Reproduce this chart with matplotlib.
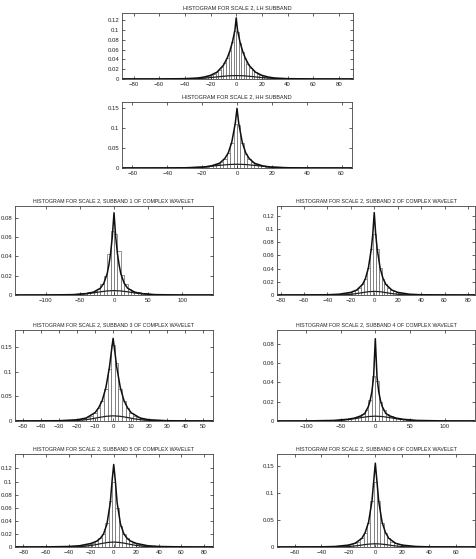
import matplotlib
matplotlib.use('Agg')
import matplotlib.pyplot as plt
from matplotlib.ticker import FuncFormatter
import numpy as np

plt.rcParams['font.family'] = ['Liberation Sans Narrow', 'Liberation Sans', 'DejaVu Sans']

# ---- data ----
titles = [
    'HISTOGRAM FOR SCALE 2, LH SUBBAND',
    'HISTOGRAM FOR SCALE 2, HH SUBBAND',
    'HISTOGRAM FOR SCALE 2, SUBBAND 1 OF COMPLEX WAVELET',
    'HISTOGRAM FOR SCALE 2, SUBBAND 2 OF COMPLEX WAVELET',
    'HISTOGRAM FOR SCALE 2, SUBBAND 3 OF COMPLEX WAVELET',
    'HISTOGRAM FOR SCALE 2, SUBBAND 4 OF COMPLEX WAVELET',
    'HISTOGRAM FOR SCALE 2, SUBBAND 5 OF COMPLEX WAVELET',
    'HISTOGRAM FOR SCALE 2, SUBBAND 6 OF COMPLEX WAVELET',
]

# histogram bins: first centre, width, heights
lh_bin0, lh_w = -39, 2
lh_hist = [0.0007, 0.0009, 0.0012, 0.0015, 0.0019, 0.0024, 0.003, 0.004, 0.005, 0.0066,
           0.0086, 0.011, 0.014, 0.018, 0.024, 0.032, 0.043, 0.058, 0.076, 0.099,
           0.097, 0.074, 0.056, 0.042, 0.031, 0.023, 0.018, 0.014, 0.011, 0.0084,
           0.0064, 0.005, 0.0039, 0.003, 0.0023, 0.0018, 0.0014, 0.0011, 0.0009, 0.0007]
hh_bin0, hh_w = -29, 2
hh_hist = [0.0005, 0.0007, 0.001, 0.0013, 0.0018, 0.0025, 0.0034, 0.0048, 0.0068, 0.01,
           0.015, 0.023, 0.037, 0.064, 0.11, 0.108, 0.063, 0.036, 0.022, 0.015,
           0.0098, 0.0067, 0.0047, 0.0034, 0.0025, 0.0018, 0.0013, 0.001, 0.0007, 0.0005]
s1_bin0, s1_w = -72.5, 5
s1_hist = [0.0003, 0.0005, 0.0007, 0.0009, 0.0012, 0.0016, 0.002, 0.0026, 0.0034, 0.0045,
           0.0065, 0.011, 0.02, 0.042, 0.066, 0.063, 0.045, 0.021, 0.011, 0.0066,
           0.0046, 0.0034, 0.0026, 0.002, 0.0016, 0.0012, 0.0009, 0.0007, 0.0005, 0.0003]
s2_bin0, s2_w = -30, 2.5
s2_hist = [0.0012, 0.0017, 0.0022, 0.003, 0.004, 0.0055, 0.0075, 0.011, 0.016, 0.025,
           0.041, 0.07, 0.092, 0.07, 0.041, 0.025, 0.016, 0.011, 0.0075, 0.0055,
           0.004, 0.003, 0.0022, 0.0017, 0.0012]
s3_bin0, s3_w = -28, 2
s3_hist = [0.0006, 0.0009, 0.0013, 0.0018, 0.0025, 0.0035, 0.005, 0.0075, 0.011, 0.017,
           0.026, 0.04, 0.065, 0.105, 0.155, 0.118, 0.065, 0.04, 0.026, 0.017,
           0.011, 0.0075, 0.005, 0.0035, 0.0025, 0.0018, 0.0013, 0.0009, 0.0006]
s4_bin0, s4_w = -67.5, 5
s4_hist = [0.0003, 0.0005, 0.0007, 0.001, 0.0013, 0.0017, 0.0022, 0.0028, 0.0036, 0.0048,
           0.0068, 0.011, 0.022, 0.047, 0.041, 0.02, 0.011, 0.0068, 0.0048, 0.0036,
           0.0028, 0.0022, 0.0017, 0.0013, 0.001, 0.0007, 0.0005, 0.0003]
s5_bin0, s5_w = -42, 3
s5_hist = [0.0005, 0.0008, 0.0011, 0.0015, 0.002, 0.0027, 0.0036, 0.0048, 0.0065, 0.009,
           0.013, 0.02, 0.036, 0.07, 0.1, 0.06, 0.032, 0.02, 0.013, 0.009,
           0.0065, 0.0048, 0.0036, 0.0027, 0.002, 0.0015, 0.0011, 0.0008, 0.0005]
s6_bin0, s6_w = -32.5, 2.5
s6_hist = [0.0007, 0.001, 0.0014, 0.0019, 0.0026, 0.0035, 0.0048, 0.0068, 0.01, 0.016,
           0.026, 0.045, 0.085, 0.12, 0.085, 0.045, 0.026, 0.016, 0.01, 0.0068,
           0.0048, 0.0035, 0.0026, 0.0019, 0.0014, 0.001, 0.0007]

# fitted (peaked) density curves
lh_fit_x = [-89, -60, -40, -30, -25, -20, -15, -10, -7, -5, -3, -1, 0, 1, 3, 5, 7, 10, 15, 20, 25, 30, 40, 60, 91]
lh_fit_y = [0, 0.0001, 0.0007, 0.002, 0.004, 0.0075, 0.014, 0.028, 0.043, 0.057, 0.075, 0.1, 0.125,
            0.1, 0.075, 0.057, 0.043, 0.028, 0.014, 0.0075, 0.004, 0.002, 0.0007, 0.0001, 0]
hh_fit_x = [-66, -40, -30, -20, -15, -10, -7, -5, -3, -1, 0, 1, 3, 5, 7, 10, 15, 20, 30, 40, 66]
hh_fit_y = [0, 0.0002, 0.0006, 0.002, 0.005, 0.012, 0.024, 0.038, 0.065, 0.112, 0.15,
            0.112, 0.065, 0.038, 0.024, 0.012, 0.005, 0.002, 0.0006, 0.0002, 0]
s1_fit_x = [-145, -100, -60, -40, -30, -20, -15, -10, -7.5, -5, -2.5, 0, 2.5, 5, 7.5, 10, 15, 20, 30, 40, 60, 100, 145]
s1_fit_y = [0, 0, 0.0004, 0.0015, 0.003, 0.007, 0.012, 0.022, 0.031, 0.043, 0.06, 0.085,
            0.06, 0.043, 0.031, 0.022, 0.012, 0.007, 0.003, 0.0015, 0.0004, 0, 0]
s2_fit_x = [-83, -60, -40, -30, -20, -15, -10, -7.5, -5, -2.5, -1.25, 0, 1.25, 2.5, 5, 7.5, 10, 15, 20, 30, 40, 60, 86]
s2_fit_y = [0, 0.0001, 0.0004, 0.0012, 0.004, 0.0075, 0.016, 0.025, 0.041, 0.07, 0.092, 0.125,
            0.092, 0.07, 0.041, 0.025, 0.016, 0.0075, 0.004, 0.0012, 0.0004, 0.0001, 0]
s3_fit_x = [-54.5, -30, -20, -15, -10, -8, -6, -4, -2, -1, 0, 1, 2, 4, 6, 8, 10, 15, 20, 30, 55.5]
s3_fit_y = [0, 0.0006, 0.0025, 0.006, 0.017, 0.027, 0.042, 0.068, 0.11, 0.14, 0.168,
            0.14, 0.11, 0.068, 0.042, 0.027, 0.017, 0.006, 0.0025, 0.0006, 0]
s4_fit_x = [-142, -100, -60, -40, -30, -20, -15, -10, -7.5, -5, -2.5, 0, 2.5, 5, 7.5, 10, 15, 20, 30, 40, 60, 100, 144]
s4_fit_y = [0, 0.0001, 0.0006, 0.0018, 0.003, 0.0055, 0.008, 0.015, 0.021, 0.03, 0.045, 0.085,
            0.045, 0.03, 0.021, 0.015, 0.008, 0.0055, 0.003, 0.0018, 0.0006, 0.0001, 0]
s5_fit_x = [-87.5, -60, -40, -30, -20, -15, -12, -9, -6, -3, -1.5, 0, 1.5, 3, 6, 9, 12, 15, 20, 30, 40, 60, 88]
s5_fit_y = [0, 0.0002, 0.0008, 0.002, 0.0055, 0.009, 0.013, 0.02, 0.035, 0.068, 0.1, 0.126,
            0.1, 0.068, 0.035, 0.02, 0.013, 0.009, 0.0055, 0.002, 0.0008, 0.0002, 0]
s6_fit_x = [-73, -40, -30, -20, -15, -10, -7.5, -5, -2.5, -1.25, 0, 1.25, 2.5, 5, 7.5, 10, 15, 20, 30, 40, 74]
s6_fit_y = [0, 0.0003, 0.001, 0.0035, 0.007, 0.016, 0.027, 0.046, 0.085, 0.12, 0.155,
            0.12, 0.085, 0.046, 0.027, 0.016, 0.007, 0.0035, 0.001, 0.0003, 0]

# broad gaussian curves
lh_g_x = [-89, -60, -45, -35, -25, -18, -12, -6, 0, 6, 12, 18, 25, 35, 45, 60, 91]
lh_g_y = [0, 0, 0.0001, 0.0005, 0.0017, 0.0034, 0.0051, 0.0065, 0.007,
          0.0065, 0.0051, 0.0034, 0.0017, 0.0005, 0.0001, 0, 0]
hh_g_x = [-66, -50, -36, -28, -20, -15, -10, -5, 0, 5, 10, 15, 20, 28, 36, 50, 66]
hh_g_y = [0, 0, 0.0001, 0.0006, 0.0024, 0.0044, 0.0067, 0.0087, 0.0095,
          0.0087, 0.0067, 0.0044, 0.0024, 0.0006, 0.0001, 0, 0]
s1_g_x = [-145, -100, -70, -55, -40, -30, -20, -10, 0, 10, 20, 30, 40, 55, 70, 100, 145]
s1_g_y = [0, 0, 0.0001, 0.0004, 0.0013, 0.0022, 0.0033, 0.0042, 0.0045,
          0.0042, 0.0033, 0.0022, 0.0013, 0.0004, 0.0001, 0, 0]
s2_g_x = [-83, -45, -33, -26, -20, -15, -10, -5, 0, 5, 10, 15, 20, 26, 33, 45, 86]
s2_g_y = [0, 0, 0.0001, 0.0003, 0.0011, 0.0022, 0.0036, 0.005, 0.0055,
          0.005, 0.0036, 0.0022, 0.0011, 0.0003, 0.0001, 0, 0]
s3_g_x = [-54.5, -40, -27, -21, -16, -12, -8, -4, 0, 4, 8, 12, 16, 21, 27, 40, 55.5]
s3_g_y = [0, 0, 0.0001, 0.0007, 0.0022, 0.0043, 0.0071, 0.0095, 0.0105,
          0.0095, 0.0071, 0.0043, 0.0022, 0.0007, 0.0001, 0, 0]
s4_g_x = [-142, -100, -70, -55, -40, -30, -20, -10, 0, 10, 20, 30, 40, 55, 70, 100, 144]
s4_g_y = [0, 0, 0.0001, 0.0004, 0.0014, 0.0024, 0.0036, 0.0046, 0.005,
          0.0046, 0.0036, 0.0024, 0.0014, 0.0004, 0.0001, 0, 0]
s5_g_x = [-87.5, -50, -36, -28, -20, -15, -10, -5, 0, 5, 10, 15, 20, 28, 36, 50, 88]
s5_g_y = [0, 0, 0.0002, 0.0007, 0.0023, 0.0039, 0.0056, 0.007, 0.0075,
          0.007, 0.0056, 0.0039, 0.0023, 0.0007, 0.0002, 0, 0]
s6_g_x = [-73, -45, -30, -22, -16, -12, -8, -4, 0, 4, 8, 12, 16, 22, 30, 45, 74]
s6_g_y = [0, 0, 0.0001, 0.0005, 0.0017, 0.0029, 0.0044, 0.0055, 0.006,
          0.0055, 0.0044, 0.0029, 0.0017, 0.0005, 0.0001, 0, 0]

hists = [(lh_bin0, lh_w, lh_hist), (hh_bin0, hh_w, hh_hist), (s1_bin0, s1_w, s1_hist),
         (s2_bin0, s2_w, s2_hist), (s3_bin0, s3_w, s3_hist), (s4_bin0, s4_w, s4_hist),
         (s5_bin0, s5_w, s5_hist), (s6_bin0, s6_w, s6_hist)]
fits = [(lh_fit_x, lh_fit_y), (hh_fit_x, hh_fit_y), (s1_fit_x, s1_fit_y), (s2_fit_x, s2_fit_y),
        (s3_fit_x, s3_fit_y), (s4_fit_x, s4_fit_y), (s5_fit_x, s5_fit_y), (s6_fit_x, s6_fit_y)]
gauss = [(lh_g_x, lh_g_y), (hh_g_x, hh_g_y), (s1_g_x, s1_g_y), (s2_g_x, s2_g_y),
         (s3_g_x, s3_g_y), (s4_g_x, s4_g_y), (s5_g_x, s5_g_y), (s6_g_x, s6_g_y)]

# ---- layout (pixels in a 477x559 canvas: left, right, top, bottom) ----
W, H = 477, 559
boxes = [(122, 353, 13, 79), (122, 352, 102, 168),
         (15, 213, 206, 295), (277, 475, 206, 295),
         (15, 213, 330, 421), (277, 475, 330, 421),
         (15, 213, 454, 547), (277, 475, 454, 547)]
xlims = [(-89, 91), (-66, 66), (-145, 145), (-83, 86), (-54.5, 55.5), (-142, 144), (-87.5, 88), (-73, 74)]
ylims = [0.135, 0.166, 0.092, 0.135, 0.185, 0.094, 0.142, 0.172]
xticks = [range(-80, 81, 20), range(-60, 61, 20), range(-100, 101, 50), range(-80, 81, 20),
          range(-50, 51, 10), range(-100, 101, 50), range(-80, 81, 20), range(-60, 61, 20)]
yticks = [np.arange(0, 0.121, 0.02), [0, 0.05, 0.1, 0.15], np.arange(0, 0.081, 0.02),
          np.arange(0, 0.121, 0.02), [0, 0.05, 0.1, 0.15], np.arange(0, 0.081, 0.02),
          np.arange(0, 0.121, 0.02), [0, 0.05, 0.1, 0.15]]

fig = plt.figure(figsize=(W / 100, H / 100), dpi=100)
fmt = FuncFormatter(lambda v, p: '%g' % round(v, 4))

for i in range(8):
    l, r, t, b = boxes[i]
    ax = fig.add_axes([l / W, 1 - b / H, (r - l) / W, (b - t) / H])
    b0, w, h = hists[i]
    centers = b0 + w * np.arange(len(h))
    ax.bar(centers, h, width=w, fill=False, edgecolor='#808080', linewidth=0.6)
    ax.plot(*gauss[i], color='#202020', linewidth=0.9)
    ax.plot(*fits[i], color='#101010', linewidth=1.1)
    ax.set_xlim(*xlims[i])
    ax.set_ylim(0, ylims[i])
    ax.set_xticks(list(xticks[i]))
    ax.set_yticks(list(yticks[i]))
    ax.yaxis.set_major_formatter(fmt)
    ax.tick_params(direction='in', length=2, width=0.5, labelsize=4.3, pad=2,
                   top=True, right=True, colors='#222222')
    for s in ax.spines.values():
        s.set_linewidth(0.6)
        s.set_color('#444444')
    tsize = 4.0 if i < 2 else 3.8
    ax.set_title(titles[i], fontsize=tsize, pad=3, color='#222222')

fig.savefig('out.png', dpi=100)
